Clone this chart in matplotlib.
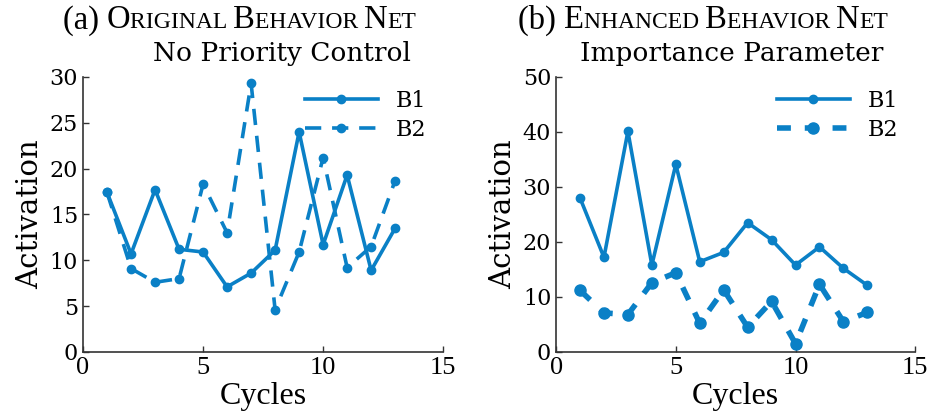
import numpy as np
import matplotlib
matplotlib.use('Agg')
import matplotlib.pyplot as plt
from matplotlib.offsetbox import TextArea, HPacker, AnchoredOffsetbox

# Datos
ciclos = np.arange(1, 14)

orig_b1 = [17.4, 10.7, 17.7, 11.2, 10.9, 7.1, 8.6, 11.1, 24.0, 11.7, 19.3, 8.9, 13.5]
orig_b2 = [17.4, 9.1, 7.6, 8.0, 18.3, 13.0, 29.3, 4.6, 10.9, 21.2, 9.2, 11.5, 18.7]

enh_b1 = [28.0, 17.2, 40.1, 15.8, 34.1, 16.4, 18.1, 23.5, 20.4, 15.8, 19.1, 15.2, 12.1]
enh_b2 = [11.2, 7.1, 6.8, 12.6, 14.4, 5.2, 11.3, 4.5, 9.2, 1.5, 12.3, 5.5, 7.2]

ylims = [30, 50]
x_ticks = [0, 5, 10, 15]

color = '#0a80c6'
serif_ancho = 'DejaVu Serif'
serif_estrecho = 'Liberation Serif'


def titulo_versalitas(ax, etiqueta, palabras, subtitulo):
    """Título en versalitas simuladas + subtítulo"""
    piezas = [TextArea(etiqueta + ' ', textprops=dict(size=23.5, family=serif_estrecho))]
    for i, p in enumerate(palabras):
        sep = ' ' if i < len(palabras) - 1 else ''
        piezas.append(TextArea(p[0], textprops=dict(size=23.5, family=serif_estrecho)))
        piezas.append(TextArea(p[1:].upper() + sep, textprops=dict(size=17, family=serif_estrecho)))
    caja = HPacker(children=piezas, align='baseline', pad=0, sep=0)
    anc = AnchoredOffsetbox(loc='lower right', child=caja, frameon=False,
                            bbox_to_anchor=(0.925, 1.15), bbox_transform=ax.transAxes,
                            borderpad=0, pad=0)
    ax.add_artist(anc)
    ax.text(0.91, 1.04, subtitulo, transform=ax.transAxes, ha='right', va='bottom',
            fontsize=19, family=serif_ancho)


fig = plt.figure(figsize=(9.33, 4.18), dpi=100)
ax1 = fig.add_axes([0.089, 0.158, 0.386, 0.658])
ax2 = fig.add_axes([0.596, 0.158, 0.385, 0.658])

# (a) Red original
ax1.plot(ciclos, orig_b1, '-', color=color, lw=2.6, marker='o', ms=6, label='B1')
ax1.plot(ciclos, orig_b2, '--', color=color, lw=2.6, marker='o', ms=6,
         dashes=(4.5, 3), label='B2')

# (b) Red mejorada
ax2.plot(ciclos, enh_b1, '-', color=color, lw=2.6, marker='o', ms=6, label='B1')
ax2.plot(ciclos, enh_b2, '--', color=color, lw=4.0, marker='o', ms=8,
         dashes=(2.5, 2.5), label='B2')

for ax, ymax in zip([ax1, ax2], ylims):
    ax.set_xlim(0, 15)
    ax.set_ylim(0, ymax)
    ax.set_xticks(x_ticks)
    ax.set_yticks(np.arange(0, ymax + 1, 5 if ymax == 30 else 10))
    for s in ['top', 'right']:
        ax.spines[s].set_visible(False)
    for s in ['left', 'bottom']:
        ax.spines[s].set_color('#333333')
        ax.spines[s].set_linewidth(1.2)
    ax.tick_params(direction='in', length=4, width=1, colors='#333333', labelcolor='black')
    for lbl in ax.get_xticklabels():
        lbl.set_family(serif_estrecho)
        lbl.set_fontsize(19)
    for lbl in ax.get_yticklabels():
        lbl.set_family(serif_ancho)
        lbl.set_fontsize(16)
    ax.set_xlabel('Cycles', fontsize=23, family=serif_estrecho, labelpad=2)
    ax.set_ylabel('Activation', fontsize=21, family=serif_ancho, labelpad=4)
    ax.legend(loc='upper right', frameon=False, prop=dict(family=serif_ancho, size=16),
              handlelength=3.3, labelspacing=0.3, borderaxespad=0.2,
              bbox_to_anchor=(0.99, 1.0))

titulo_versalitas(ax1, '(a)', ['Original', 'Behavior', 'Net'], 'No Priority Control')
titulo_versalitas(ax2, '(b)', ['Enhanced', 'Behavior', 'Net'], 'Importance Parameter')

fig.savefig('out.png', dpi=100)
